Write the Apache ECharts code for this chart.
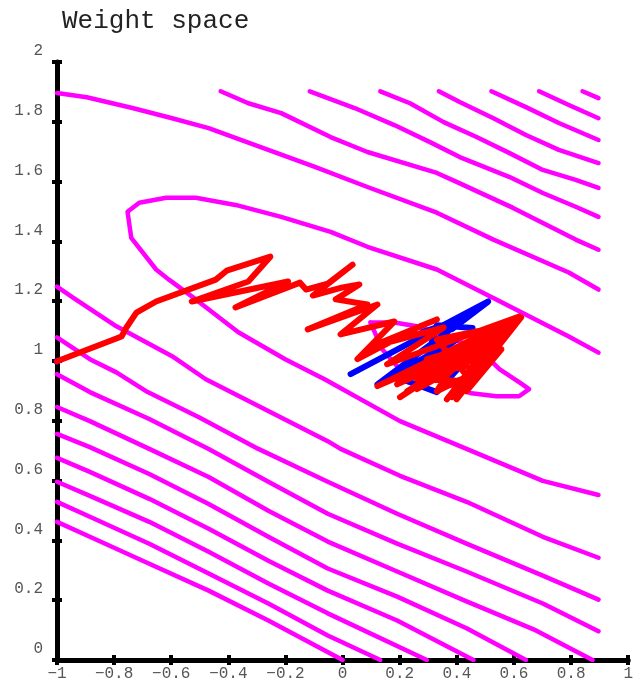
<!DOCTYPE html>
<html>
<head>
<meta charset="utf-8">
<script src="https://cdn.jsdelivr.net/npm/echarts@6/dist/echarts.min.js"></script>
<style>
html,body{margin:0;padding:0;background:#fff;}
#chart{width:636px;height:682px;}
</style>
</head>
<body>
<div id="chart"></div>
<script>
// ---- data (weight-space coordinates) ----
var titleText = 'Weight space';
var xTicks = [-1, -0.8, -0.6, -0.4, -0.2, 0, 0.2, 0.4, 0.6, 0.8, 1];
var yTicks = [0, 0.2, 0.4, 0.6, 0.8, 1, 1.2, 1.4, 1.6, 1.8, 2];

// upper-right contour lines
var cA = [[-1.000,1.896],[-0.896,1.882],[-0.736,1.846],[-0.597,1.812],[-0.469,1.779],[-0.306,1.722],[-0.097,1.649],[0.087,1.582],[0.330,1.496],[0.528,1.406],[0.792,1.296],[0.896,1.239]];
var cB = [[-0.427,1.902],[-0.330,1.862],[-0.215,1.829],[-0.042,1.749],[0.087,1.699],[0.330,1.629],[0.399,1.599],[0.597,1.512],[0.816,1.406],[0.896,1.372]];
var cC = [[-0.115,1.902],[0.042,1.846],[0.181,1.789],[0.306,1.732],[0.410,1.682],[0.583,1.616],[0.701,1.562],[0.816,1.516],[0.896,1.482]];
var cD = [[0.132,1.902],[0.236,1.862],[0.354,1.799],[0.469,1.749],[0.583,1.696],[0.701,1.639],[0.816,1.606],[0.896,1.579]];
var cE = [[0.337,1.902],[0.410,1.866],[0.528,1.812],[0.642,1.756],[0.757,1.706],[0.896,1.662]];
var cF = [[0.521,1.902],[0.642,1.849],[0.757,1.796],[0.896,1.739]];
var cG = [[0.688,1.902],[0.792,1.856],[0.896,1.812]];
var cH = [[0.840,1.902],[0.896,1.879]];

// U-shaped contour around the minimum
var cU = [[0.896,1.028],[0.792,1.082],[0.538,1.206],[0.330,1.306],[0.087,1.382],[-0.042,1.432],[-0.215,1.482],[-0.375,1.522],[-0.514,1.546],[-0.618,1.546],[-0.712,1.529],[-0.753,1.499],[-0.740,1.412],[-0.653,1.306],[-0.608,1.272],[-0.514,1.206],[-0.365,1.096],[-0.201,1.006],[-0.063,0.939],[0.201,0.799],[0.434,0.706],[0.701,0.599],[0.896,0.552]];

// inner closed contour
var cLoop = [[0.097,1.129],[0.181,1.129],[0.260,1.116],[0.347,1.089],[0.434,1.056],[0.503,1.016],[0.549,0.973],[0.618,0.929],[0.653,0.906],[0.618,0.882],[0.538,0.882],[0.451,0.892],[0.365,0.922],[0.260,0.966],[0.191,0.982],[0.139,1.039],[0.097,1.129]];

// lower-left contour lines
var cL1 = [[-1.000,1.249],[-0.944,1.212],[-0.792,1.116],[-0.597,1.016],[-0.479,0.939],[-0.052,0.732],[-0.007,0.706],[0.201,0.616],[0.434,0.529],[0.701,0.412],[0.896,0.342]];
var cL2 = [[-1.000,1.079],[-0.885,1.006],[-0.792,0.962],[-0.688,0.899],[-0.503,0.812],[-0.295,0.706],[-0.052,0.596],[0.191,0.489],[0.434,0.389],[0.701,0.282],[0.896,0.202]];
var cL3 = [[-1.000,0.956],[-0.885,0.896],[-0.677,0.806],[-0.469,0.706],[-0.260,0.596],[-0.052,0.489],[0.191,0.389],[0.434,0.296],[0.701,0.189],[0.896,0.096]];
var cL4 = [[-1.000,0.846],[-0.885,0.799],[-0.677,0.706],[-0.469,0.612],[-0.260,0.499],[-0.052,0.396],[0.191,0.296],[0.434,0.196],[0.677,0.099],[0.875,0.000]];
var cL5 = [[-1.000,0.756],[-0.885,0.712],[-0.677,0.622],[-0.469,0.522],[-0.260,0.412],[-0.052,0.306],[0.191,0.212],[0.434,0.106],[0.642,0.000]];
var cL6 = [[-1.000,0.676],[-0.885,0.629],[-0.677,0.539],[-0.469,0.439],[-0.260,0.332],[-0.052,0.232],[0.191,0.132],[0.458,0.000]];
var cL7 = [[-1.000,0.596],[-0.885,0.549],[-0.677,0.462],[-0.469,0.362],[-0.260,0.256],[-0.052,0.156],[0.295,0.000]];
var cL8 = [[-1.000,0.529],[-0.885,0.479],[-0.677,0.389],[-0.469,0.289],[-0.260,0.189],[-0.052,0.082],[0.132,0.000]];
var cL9 = [[-1.000,0.462],[-0.885,0.412],[-0.677,0.322],[-0.469,0.232],[-0.260,0.132],[0.000,0.000]];

// blue trajectory
var blueStart = [[-1.000,0.999]];
var bluePath = [[0.028,0.956],[0.510,1.199],[0.382,1.106],[0.278,1.096],[0.434,1.146],[0.122,0.922],[0.399,1.072],[0.208,0.939],[0.330,0.896],[0.434,1.006],[0.295,1.006],[0.330,1.120],[0.455,1.110]];

// red trajectory
var redPath = [[-1.000,0.999],[-0.774,1.082],[-0.757,1.112],[-0.722,1.162],[-0.653,1.199],[-0.444,1.272],[-0.406,1.302],[-0.253,1.349],[-0.330,1.266],[-0.528,1.199],[-0.191,1.266],[-0.375,1.179],
  [-0.149,1.262],[-0.128,1.239],[-0.052,1.259],[0.035,1.322],[-0.104,1.219],[0.000,1.246],[0.059,1.256],[-0.024,1.206],[0.087,1.189],[-0.122,1.106],[0.122,1.189],[-0.007,1.089],[0.181,1.132],[0.052,1.006],[0.271,1.116],[0.330,1.139],[0.094,1.046],[0.354,1.112],[0.156,0.989],[0.618,1.149],[0.122,0.916],[0.538,1.089],[0.201,0.879],[0.590,1.132],[0.260,0.906],[0.503,1.032],[0.365,0.872],[0.556,1.106],[0.174,0.939],[0.469,1.006],[0.399,0.872],[0.625,1.146],[0.226,0.956],[0.434,1.056],[0.330,0.899],[0.486,0.972],[0.295,1.006],[0.538,1.072],[0.260,0.939],[0.451,0.932],
  [0.330,1.072],[0.590,1.122],[0.226,0.899],[0.521,1.056],[0.382,0.879],[0.608,1.139],[0.278,0.966],[0.556,1.039],[0.434,0.899],[0.503,1.089],[0.191,0.922],[0.469,1.039],[0.347,0.939]];

var contours = [cA,cB,cC,cD,cE,cF,cG,cH,cU,cLoop,cL1,cL2,cL3,cL4,cL5,cL6,cL7,cL8,cL9];

// ---- chart ----
var FONT = 'Liberation Mono, DejaVu Sans Mono, monospace';
function fmt(v){ var s = String(Math.round(v*10)/10); return s.replace('-', '\u2212'); }

var series = [];
contours.forEach(function(c){
  series.push({type:'line', data:c, showSymbol:false, silent:true,
    lineStyle:{color:'#ff00ff', width:4.5, join:'round', cap:'round'}, z:2});
});
series.push({type:'scatter', data:blueStart, symbolSize:7, itemStyle:{color:'#0000ff'}, z:3, silent:true});
series.push({type:'line', data:bluePath, showSymbol:false, silent:true,
  lineStyle:{color:'#0000ff', width:6, join:'round', cap:'round'}, z:3});
series.push({type:'line', data:redPath, showSymbol:false, silent:true,
  lineStyle:{color:'#ff0000', width:6, join:'round', cap:'round'}, z:4});

var chart = echarts.init(document.getElementById('chart'), null, {renderer:'canvas'});
chart.setOption({
  animation:false,
  backgroundColor:'#ffffff',
  title:{text:titleText, left:57, top:3,
    textStyle:{fontFamily:FONT, fontSize:26, fontWeight:'normal', color:'#222'}},
  grid:{left:57, right:3, top:62, bottom:20, containLabel:false},
  xAxis:[
    {type:'value', min:-1, max:1, interval:0.2, position:'bottom',
     axisLine:{show:true, onZero:false, lineStyle:{color:'#000', width:5}},
     axisTick:{show:true, length:5, lineStyle:{color:'#000', width:4}},
     axisLabel:{show:true, margin:6, fontFamily:FONT, fontSize:16, color:'#555', formatter:fmt, showMaxLabel:true, showMinLabel:true},
     splitLine:{show:false}},
    {type:'value', min:-1, max:1, interval:0.2, position:'bottom',
     axisLine:{show:false, onZero:false},
     axisTick:{show:true, inside:true, length:5, lineStyle:{color:'#000', width:4}},
     axisLabel:{show:false}, splitLine:{show:false}}
  ],
  yAxis:[
    {type:'value', min:0, max:2, interval:0.2, position:'left',
     axisLine:{show:true, onZero:false, lineStyle:{color:'#000', width:5}},
     axisTick:{show:true, length:5, lineStyle:{color:'#000', width:4}},
     axisLabel:{show:true, margin:14, verticalAlign:'bottom', padding:[0,0,3,0], fontFamily:FONT, fontSize:16, color:'#555', formatter:fmt, showMaxLabel:true, showMinLabel:true},
     splitLine:{show:false}},
    {type:'value', min:0, max:2, interval:0.2, position:'left',
     axisLine:{show:false, onZero:false},
     axisTick:{show:true, inside:true, length:5, lineStyle:{color:'#000', width:4}},
     axisLabel:{show:false}, splitLine:{show:false}}
  ],
  series:series
});
</script>
</body>
</html>
